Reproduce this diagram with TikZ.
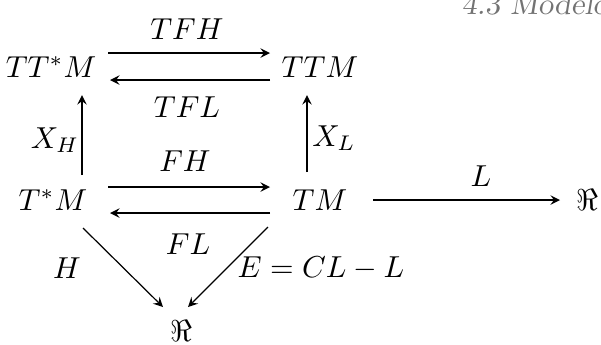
\documentclass[tikz,border=0pt]{standalone}
\usepackage{amsmath}
\usepackage{amssymb}
\usetikzlibrary{calc}

\begin{document}
\begin{tikzpicture}[x=0.33pt,y=0.33pt,>=stealth]
\useasboundingbox (0,0) rectangle (601,-344);
\clip (0,0) rectangle (601,-344);

\node[anchor=base west, font=\slshape, text=black!55, inner sep=0pt] (header) at (461,-14) {4.3 Modelos};

% objects
\node (ttsm) at (51,-67) {$TT^*M$};
\node (ttm) at (320,-67) {$TTM$};
\node (tsm) at (53,-200) {$T^*M$};
\node (tm) at (320,-200) {$TM$};
\node (rbot) at (181,-331) {$\Re$};
\node (rright) at (587,-200) {$\Re$};

% labels
\node (tfh) at (187,-29) {$TFH$};
\node (tfl) at (187,-107) {$TFL$};
\node (xh) at (55,-140) {$X_H$};
\node (xl) at (334,-138) {$X_L$};
\node (fh) at (185,-161) {$FH$};
\node (fl) at (188,-244) {$FL$};
\node (hl) at (67,-268) {$H$};
\node (el) at (321,-268) {$E = CL - L$};
\node (ll) at (481,-176) {$L$};

\draw[->] ($(ttsm)+(57,14)$) -- ($(ttm)+(-50,14)$);
\draw[->] ($(ttm)+(-50,-13)$) -- ($(ttsm)+(59,-13)$);
\draw[->] ($(tsm)+(55,13)$) -- ($(tm)+(-50,13)$);
\draw[->] ($(tm)+(-50,-13)$) -- ($(tsm)+(57,-13)$);

\draw[->] ($(tsm)+(29,25)$) -- ($(ttsm)+(31,-28)$);
\draw[->] ($(tm)+(-13,28)$) -- ($(ttm)+(-13,-28)$);

\draw[->] ($(tsm)+(30,-28)$) -- ($(rbot)+(-18,24)$);
\draw[->] ($(tm)+(-52,-27)$) -- ($(rbot)+(7,24)$);
\draw[->] ($(tm)+(53,0)$) -- ($(rright)+(-27,0)$);
\end{tikzpicture}
\end{document}
